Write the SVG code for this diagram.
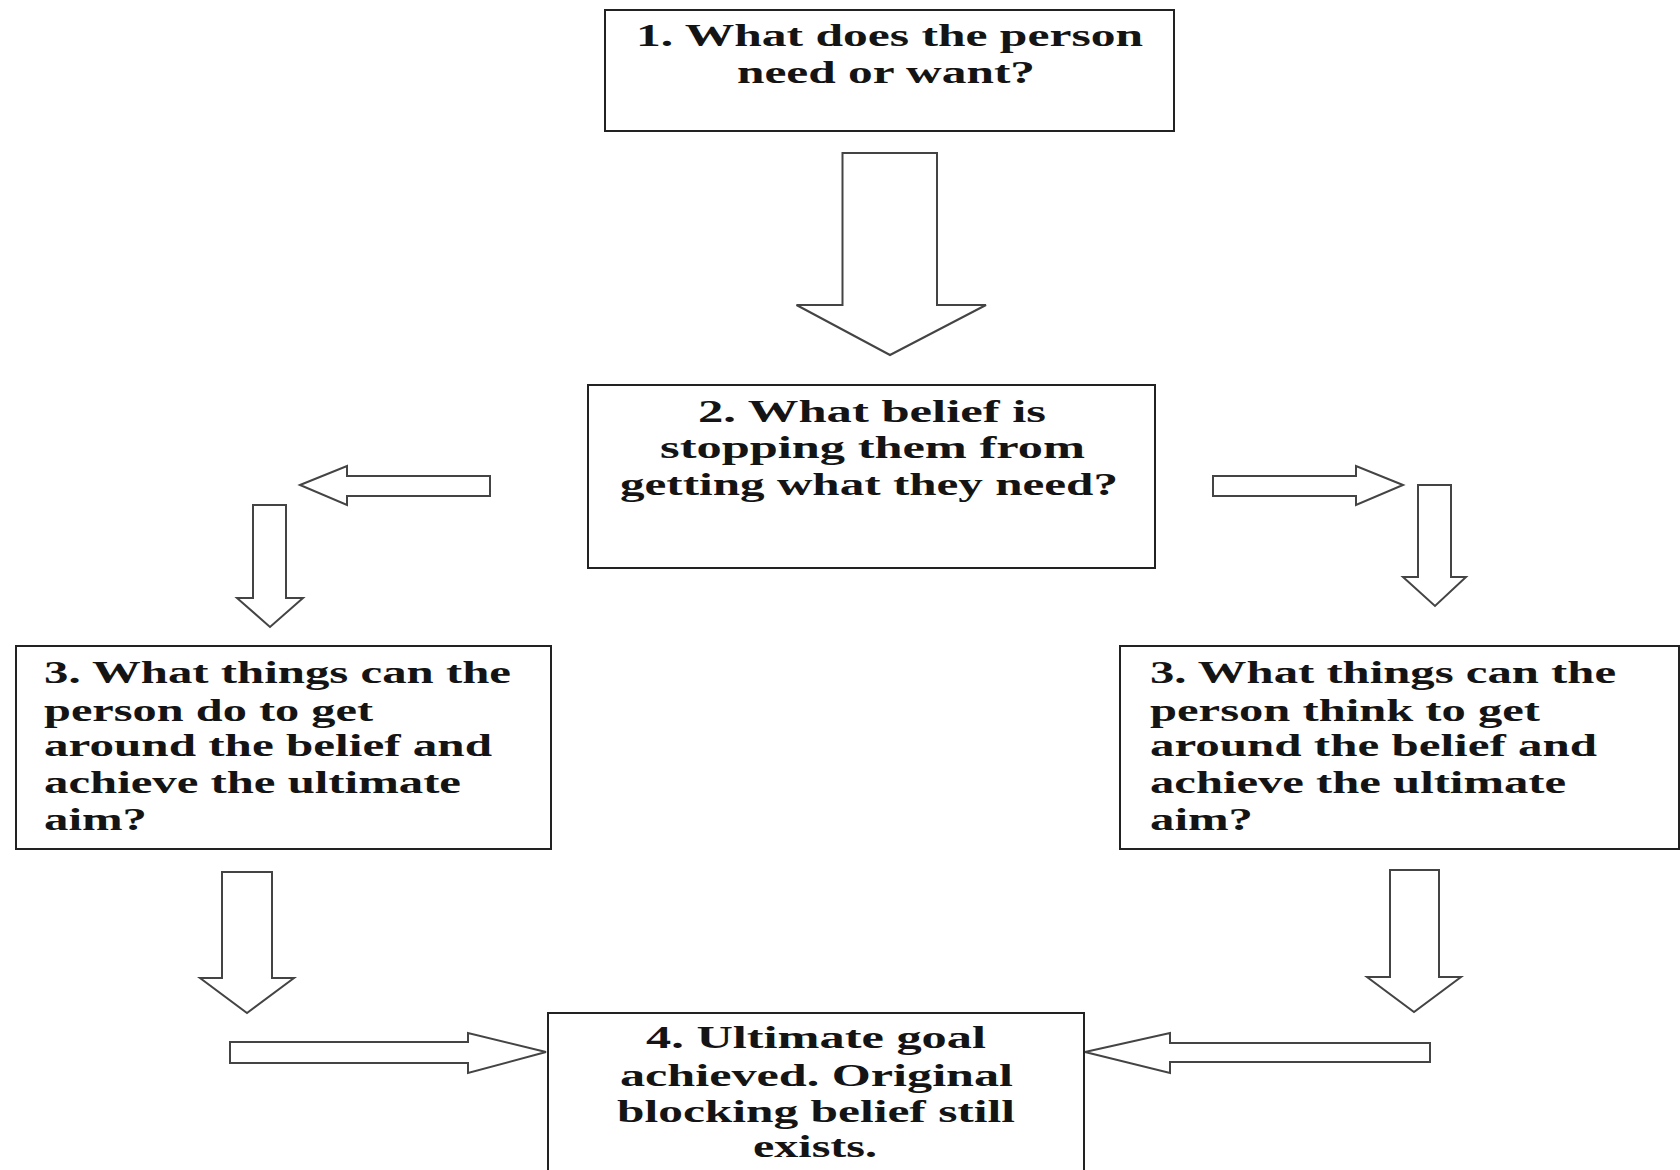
<svg xmlns="http://www.w3.org/2000/svg" width="1680" height="1170" viewBox="0 0 1680 1170">
<style>
.box{fill:#fff;stroke:#222;stroke-width:2}
.arr{fill:#fff;stroke:#444;stroke-width:2;stroke-linejoin:miter}
.t{font-family:"Liberation Serif","Times New Roman",serif;font-weight:bold;font-size:32px;fill:#141414}
</style>
<rect width="1680" height="1170" fill="#fff"/>
<g id="connectors">
<polygon class="arr" points="842.5,153 937,153 937,305 986,305 890,355 796.5,305 842.5,305"/>
<polygon class="arr" points="300,485 347,466 347,476 490,476 490,496 347,496 347,505"/>
<polygon class="arr" points="253,505 286,505 286,598 303,598 270,627 237,598 253,598"/>
<polygon class="arr" points="1403,485 1356,466 1356,476 1213,476 1213,496 1356,496 1356,505"/>
<polygon class="arr" points="1418,485 1451,485 1451,577 1466,577 1435,606 1403,577 1418,577"/>
<polygon class="arr" points="222,872 272,872 272,978 294,978 247,1013 200,978 222,978"/>
<polygon class="arr" points="546,1052 468,1033 468,1042 230,1042 230,1063 468,1063 468,1073"/>
<polygon class="arr" points="1390,870 1439,870 1439,977 1461,977 1414,1012 1367,977 1390,977"/>
<polygon class="arr" points="1085,1052 1170,1033 1170,1043 1430,1043 1430,1062 1170,1062 1170,1073"/>
</g>
<g id="node1">
<rect class="box" x="605" y="10" width="569" height="121"/>
<text class="t" x="636" y="46" textLength="507" lengthAdjust="spacingAndGlyphs">1. What does the person</text>
<text class="t" x="737" y="83" textLength="298" lengthAdjust="spacingAndGlyphs">need or want?</text>
</g>
<g id="node2">
<rect class="box" x="588" y="385" width="567" height="183"/>
<text class="t" x="698" y="422" textLength="348" lengthAdjust="spacingAndGlyphs">2. What belief is</text>
<text class="t" x="660" y="458" textLength="425" lengthAdjust="spacingAndGlyphs">stopping them from</text>
<text class="t" x="620" y="495" textLength="498" lengthAdjust="spacingAndGlyphs">getting what they need?</text>
</g>
<g id="node3a">
<rect class="box" x="16" y="646" width="535" height="203"/>
<text class="t" x="44" y="683" textLength="467" lengthAdjust="spacingAndGlyphs">3. What things can the</text>
<text class="t" x="44" y="721" textLength="329" lengthAdjust="spacingAndGlyphs">person do to get</text>
<text class="t" x="44" y="756" textLength="448" lengthAdjust="spacingAndGlyphs">around the belief and</text>
<text class="t" x="44" y="793" textLength="417" lengthAdjust="spacingAndGlyphs">achieve the ultimate</text>
<text class="t" x="44" y="830" textLength="103" lengthAdjust="spacingAndGlyphs">aim?</text>
</g>
<g id="node3b">
<rect class="box" x="1120" y="646" width="559" height="203"/>
<text class="t" x="1150" y="683" textLength="466" lengthAdjust="spacingAndGlyphs">3. What things can the</text>
<text class="t" x="1150" y="721" textLength="390" lengthAdjust="spacingAndGlyphs">person think to get</text>
<text class="t" x="1150" y="756" textLength="447" lengthAdjust="spacingAndGlyphs">around the belief and</text>
<text class="t" x="1150" y="793" textLength="416" lengthAdjust="spacingAndGlyphs">achieve the ultimate</text>
<text class="t" x="1150" y="830" textLength="103" lengthAdjust="spacingAndGlyphs">aim?</text>
</g>
<g id="node4">
<rect class="box" x="548" y="1013" width="536" height="170"/>
<text class="t" x="646" y="1048" textLength="340" lengthAdjust="spacingAndGlyphs">4. Ultimate goal</text>
<text class="t" x="620" y="1086" textLength="393" lengthAdjust="spacingAndGlyphs">achieved. Original</text>
<text class="t" x="617" y="1122" textLength="398" lengthAdjust="spacingAndGlyphs">blocking belief still</text>
<text class="t" x="753" y="1157" textLength="124" lengthAdjust="spacingAndGlyphs">exists.</text>
</g>
</svg>
